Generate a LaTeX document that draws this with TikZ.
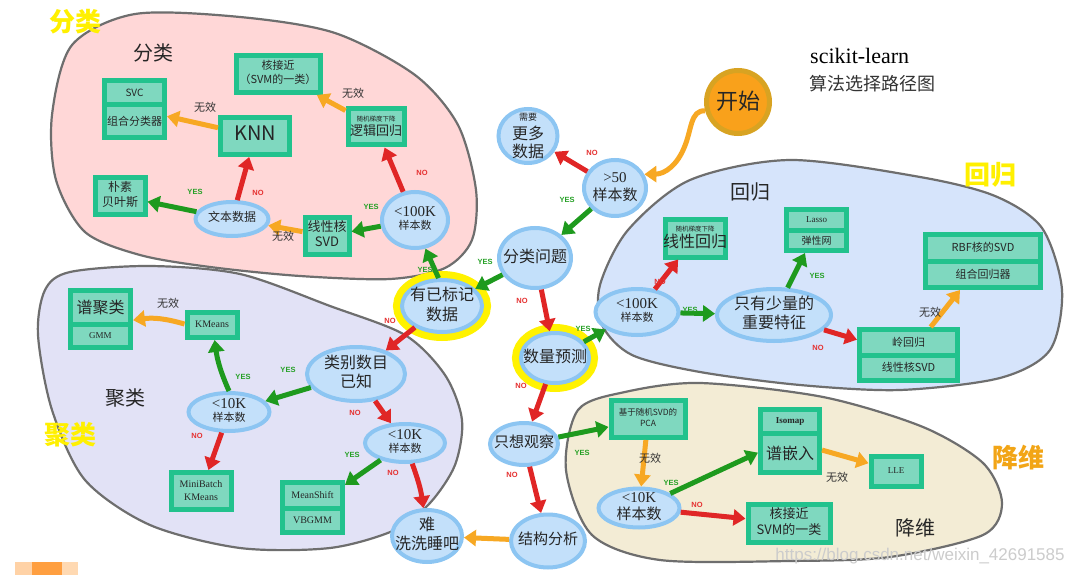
\documentclass[tikz,border=0pt]{standalone}
\usepackage{fontspec}
\setmainfont{Noto Sans CJK SC}
\newfontfamily\sr{Liberation Serif}
\newfontfamily\lsans{Liberation Sans}
\usetikzlibrary{arrows.meta,shapes.geometric,shapes.multipart}
\definecolor{pinkF}{HTML}{FFD7D7}
\definecolor{lavF}{HTML}{E2E2F6}
\definecolor{regF}{HTML}{D6E4FB}
\definecolor{dimF}{HTML}{F3ECD5}
\definecolor{blobB}{HTML}{6E6E6E}
\definecolor{ellF}{HTML}{C3E0FA}
\definecolor{ellB}{HTML}{8CC5F2}
\definecolor{boxF}{HTML}{7FD8BF}
\definecolor{boxB}{HTML}{22C28D}
\definecolor{arG}{HTML}{1E9A1E}
\definecolor{arR}{HTML}{E02626}
\definecolor{arO}{HTML}{F7A823}
\definecolor{yesC}{HTML}{25A025}
\definecolor{noC}{HTML}{E53030}
\definecolor{ringY}{HTML}{FFF200}
\definecolor{startF}{HTML}{F9A11B}
\definecolor{startB}{HTML}{D8A322}
\definecolor{titleY}{HTML}{FFF000}
\definecolor{titleO}{HTML}{F2A516}
\newcommand{\fs}[2]{\fontsize{#1}{#2}\selectfont}
\newcommand{\zc}[1]{\makebox[0pt]{\raisebox{\dimexpr(\depth-\height)/2\relax}[0pt][0pt]{\begin{tabular}{@{}c@{}}#1\end{tabular}}}}
\newcommand{\pb}[3]{\parbox[c][#2pt][c]{#1pt}{\centering #3}}
\tikzset{
  blob/.style={draw=blobB, line width=2.2},
  ell/.style={ellipse, draw=ellB, fill=ellF, line width=4, inner sep=0pt, text=black!85},
  yring/.style={preaction={draw=ringY, line width=18}},
  bx/.style={rectangle, draw=boxB, fill=boxF, line width=5, inner sep=0pt, text=black!85},
  sbx/.style={rectangle split, rectangle split parts=2, draw=boxB, fill=boxF, line width=5, inner sep=0pt, text=black!85},
  arr/.style={line width=5, -{Triangle[length=12pt,width=16pt]}},
  garr/.style={arr, draw=arG},
  rarr/.style={arr, draw=arR},
  oarr/.style={arr, draw=arO},
  yes/.style={text=yesC, font=\lsans\bfseries\fs{7.5}{8}, inner sep=0pt},
  no/.style={text=noC, font=\lsans\bfseries\fs{7.5}{8}, inner sep=0pt},
  wx/.style={text=black!80, font=\fs{11}{12}, inner sep=0pt},
  ytitle/.style={text=titleY, font=\bfseries\fs{26}{28}, inner sep=0pt},
  btitle/.style={text=black!85, font=\fs{20}{22}, inner sep=0pt}
}
\begin{document}
\begin{tikzpicture}[x=1pt,y=-1pt]
\useasboundingbox (0,0) rectangle (1066,575);
\fill[white] (0,0) rectangle (1066,575);
% blobs
\draw[blob, fill=pinkF] plot[smooth cycle] coordinates {(135,14) (240,17) (335,33) (415,75) (458,125) (476,190) (472,240) (445,268) (390,279) (300,276) (210,267) (140,255) (85,232) (56,180) (52,115) (72,45)};
\draw[blob, fill=lavF] plot[smooth cycle] coordinates {(70,272) (150,266) (240,274) (330,306) (405,335) (445,375) (462,420) (455,465) (430,503) (395,530) (330,548) (240,548) (150,525) (85,480) (52,410) (38,335) (45,290)};
\draw[blob, fill=regF] plot[smooth cycle] coordinates {(600,285) (628,230) (690,180) (790,160) (920,177) (995,196) (1042,228) (1062,290) (1050,350) (1000,378) (900,390) (800,385) (700,372) (632,355) (602,325)};
\draw[blob, fill=dimF] plot[smooth cycle] coordinates {(578,410) (625,392) (700,383) (823,397) (923,427) (983,463) (1002,503) (983,535) (890,557) (790,561) (660,560) (592,535) (566,470)};
% small swatches bottom left
\fill[orange!35] (15,562) rectangle (32,575);
\fill[orange!75] (32,562) rectangle (62,575);
\fill[orange!30] (62,562) rectangle (78,575);
% titles
\node[ytitle] (tA) at (75,22) {分类};
\node[ytitle] (tB) at (990,175) {回归};
\node[ytitle] (tC) at (70,435) {聚类};
\node[ytitle, text=titleO] (tD) at (1018,458) {降维};
\node[btitle] (iA) at (153,53) {分类};
\node[btitle] (iB) at (750,192) {回归};
\node[btitle] (iC) at (125,398) {聚类};
\node[btitle] (iD) at (915,528) {降维};
\node[anchor=west, inner sep=0pt, font=\sr\fs{22}{24}] (sk) at (810,56) {scikit-learn};
\node[anchor=west, inner sep=0pt, font=\fs{18}{20}, text=black!80] (sk2) at (809,84) {算法选择路径图};
\node[inner sep=0pt, font=\lsans\fs{17}{18}, text=gray!40] (wm) at (920,556) {https://blog.csdn.net/weixin\_42691585};
% ellipse nodes
\node[ell, circle, fill=startF, draw=startB, line width=5, minimum size=63] (start) at (738,102) {\zc{\fs{22}{24}开始}};
\node[ell, minimum width=62, minimum height=56, font=\fs{15}{17}] (gt50) at (615,188) {\zc{{\sr >50}\\样本数}};
\node[ell, minimum width=59, minimum height=54, font=\fs{16}{17}] (more) at (528,136) {\zc{{\fs{9}{10}需要}\\更多\\数据}};
\node[ell, minimum width=72, minimum height=60, font=\fs{16}{18}] (clsq) at (535,258) {\zc{分类问题}};
\node[ell, yring, minimum width=80, minimum height=52, font=\fs{16}{20}] (labeled) at (442,306) {\zc{有已标记\\数据}};
\node[ell, yring, minimum width=68, minimum height=50, font=\fs{16}{18}] (qty) at (555,358) {\zc{数量预测}};
\node[ell, minimum width=68, minimum height=42, font=\fs{15}{17}] (look) at (524,444) {\zc{只想观察}};
\node[ell, minimum width=74, minimum height=53, font=\fs{15}{17}] (struct) at (548,541) {\zc{结构分析}};
\node[ell, minimum width=70, minimum height=52, font=\fs{16}{19}] (hard) at (427,536) {\zc{难\\洗洗睡吧}};
\node[ell, minimum width=98, minimum height=54, font=\fs{16}{19}] (catknown) at (356,374) {\zc{类别数目\\已知}};
\node[ell, minimum width=81, minimum height=38, font=\fs{11}{12}] (ktenA) at (229,412) {\zc{{\sr\fs{15}{15}<10K}\\样本数}};
\node[ell, minimum width=80, minimum height=38, font=\fs{11}{12}] (ktenB) at (405,443) {\zc{{\sr\fs{15}{15}<10K}\\样本数}};
\node[ell, minimum width=66, minimum height=56, font=\fs{11}{12}] (hkA) at (415,220) {\zc{{\sr\fs{15}{15}<100K}\\样本数}};
\node[ell, minimum width=73, minimum height=34, font=\fs{12}{14}] (text) at (232,219) {\zc{文本数据}};
\node[ell, minimum width=83, minimum height=46, font=\fs{11}{12}] (hkB) at (637,312) {\zc{{\sr\fs{15}{15}<100K}\\样本数}};
\node[ell, minimum width=114, minimum height=52, font=\fs{16}{19}] (few) at (774,315) {\zc{只有少量的\\重要特征}};
\node[ell, minimum width=81, minimum height=39, font=\fs{15}{15}] (ktenC) at (639,508) {\zc{{\sr <10K}\\样本数}};
% boxes
\node[bx, minimum width=84, minimum height=37, font=\fs{11}{14}] (svmA) at (278,74) {\zc{核接近\\（SVM的一类）}};
\node[sbx] (svc) at (134.5,109) {\pb{60}{19}{\fs{10}{11}SVC}\nodepart{two}\pb{60}{28}{\fs{11}{12}组合分类器}};
\node[bx, minimum width=69, minimum height=37, font=\fs{20}{22}] (knn) at (255,136) {\zc{KNN}};
\node[bx, minimum width=50, minimum height=37, font=\fs{12}{15}] (nb) at (120,196) {\zc{朴素\\贝叶斯}};
\node[bx, minimum width=56, minimum height=36, font=\fs{8}{9}] (lr) at (376,127) {\zc{{\fs{6.5}{7}随机梯度下降}\\{\fs{13}{15}逻辑回归}}};
\node[bx, minimum width=44, minimum height=37, font=\fs{13}{15}] (lsvd) at (327,236) {\zc{线性核\\SVD}};
\node[sbx] (spec) at (100.5,319) {\pb{60}{29}{\fs{16}{17}谱聚类}\nodepart{two}\pb{60}{18}{\sr\fs{9}{10}GMM}};
\node[bx, minimum width=50, minimum height=25, font=\sr\fs{10}{12}] (kmeans) at (212,325) {\zc{KMeans}};
\node[bx, minimum width=60, minimum height=37, font=\sr\fs{10}{13}] (mbk) at (201,491) {\zc{MiniBatch\\KMeans}};
\node[sbx] (ms) at (312.5,507.5) {\pb{60}{21}{\sr\fs{10}{11}MeanShift}\nodepart{two}\pb{60}{19}{\sr\fs{10}{11}VBGMM}};
\node[bx, minimum width=60, minimum height=38, font=\fs{8}{9}] (linreg) at (695,238) {\zc{{\fs{6.5}{7}随机梯度下降}\\{\fs{16}{17}线性回归}}};
\node[sbx] (lasso) at (816.5,230) {\pb{60}{15.5}{\sr\fs{9}{10}Lasso}\nodepart{two}\pb{60}{15.5}{\fs{10}{11}弹性网}};
\node[sbx] (rbf) at (983,261) {\pb{115}{21.5}{\fs{11}{12}RBF核的SVD}\nodepart{two}\pb{115}{21.5}{\fs{11}{12}组合回归器}};
\node[sbx] (ridge) at (908.5,355) {\pb{98}{20.5}{\fs{11}{12}岭回归}\nodepart{two}\pb{98}{20.5}{\fs{11}{12}线性核SVD}};
\node[bx, minimum width=74, minimum height=37, font=\fs{8.5}{11}] (pca) at (648,419) {\zc{基于随机SVD的\\PCA}};
\node[sbx] (iso) at (790,441) {\pb{59}{19}{\sr\bfseries\fs{9}{10}Isomap}\nodepart{two}\pb{59}{34}{\fs{16}{17}谱嵌入}};
\node[bx, minimum width=50, minimum height=30, font=\sr\fs{9}{10}] (lle) at (896,471) {\zc{LLE}};
\node[bx, minimum width=82, minimum height=38, font=\fs{13}{16}] (svmB) at (789,523) {\zc{核接近\\SVM的一类}};
% arrows
\draw[oarr] (start.195) .. controls (690,110) and (692,130) .. (684,148) .. controls (677,165) and (665,174) .. (gt50.25);
\draw[rarr] (gt50) -- (more);
\draw[garr] (gt50) -- (clsq);
\draw[garr] (clsq) -- (labeled);
\draw[rarr] (clsq) -- (qty);
\draw[garr] (labeled.97) -- (hkA.290);
\draw[garr] (hkA) -- (lsvd);
\draw[rarr] (hkA) -- (lr);
\draw[oarr] (lr) -- (svmA);
\draw[oarr] (lsvd) -- (text);
\draw[garr] (text) -- (nb);
\draw[rarr] (text) -- (knn);
\draw[oarr] (knn) -- (svc);
\draw[rarr] (labeled) -- (catknown);
\draw[garr] (catknown) -- (ktenA);
\draw[rarr] (catknown) -- (ktenB);
\draw[garr] (ktenA.north) to[bend left=8] (kmeans.-80);
\draw[rarr] (ktenA) -- (mbk);
\draw[oarr] (kmeans.178) to[bend right=12] (spec.-2);
\draw[garr] (ktenB) -- (ms);
\draw[rarr] (ktenB) to[bend left=6] (hard);
\draw[garr] (qty) -- (hkB);
\draw[rarr] (qty) -- (look);
\draw[rarr] (hkB) -- (linreg);
\draw[garr] (hkB) -- (few);
\draw[garr] (few) -- (lasso);
\draw[rarr] (few) -- (ridge);
\draw[oarr] (ridge) -- (rbf);
\draw[garr] (look) -- (pca);
\draw[rarr] (look) -- (struct);
\draw[oarr] (struct) -- (hard);
\draw[oarr] (pca) -- (ktenC);
\draw[garr] (ktenC) -- (iso.200);
\draw[rarr] (ktenC) -- (svmB);
\draw[oarr] (iso) -- (lle);
% labels
\node[no] (l1) at (592,153) {NO};
\node[yes] (l2) at (567,200) {YES};
\node[yes] (l3) at (485,262) {YES};
\node[no] (l4) at (522,301) {NO};
\node[yes] (l5) at (425,270) {YES};
\node[yes] (l6) at (371,207) {YES};
\node[no] (l7) at (422,173) {NO};
\node[wx] (l8) at (353,93) {无效};
\node[wx] (l9) at (283,236) {无效};
\node[no] (l10) at (258,193) {NO};
\node[yes] (l11) at (195,192) {YES};
\node[wx] (l12) at (205,107) {无效};
\node[no] (l13) at (390,321) {NO};
\node[yes] (l14) at (288,370) {YES};
\node[no] (l15) at (355,413) {NO};
\node[yes] (l16) at (243,377) {YES};
\node[no] (l17) at (197,436) {NO};
\node[wx] (l18) at (168,303) {无效};
\node[yes] (l19) at (352,455) {YES};
\node[no] (l20) at (393,473) {NO};
\node[yes] (l21) at (583,329) {YES};
\node[no] (l22) at (521,386) {NO};
\node[no] (l23) at (660,282) {NO};
\node[yes] (l24) at (690,310) {YES};
\node[yes] (l25) at (817,276) {YES};
\node[no] (l26) at (818,348) {NO};
\node[wx] (l27) at (930,312) {无效};
\node[yes] (l28) at (582,453) {YES};
\node[no] (l29) at (512,475) {NO};
\node[wx] (l30) at (650,458) {无效};
\node[yes] (l31) at (671,483) {YES};
\node[no] (l32) at (697,505) {NO};
\node[wx] (l33) at (837,477) {无效};
\end{tikzpicture}
\end{document}
